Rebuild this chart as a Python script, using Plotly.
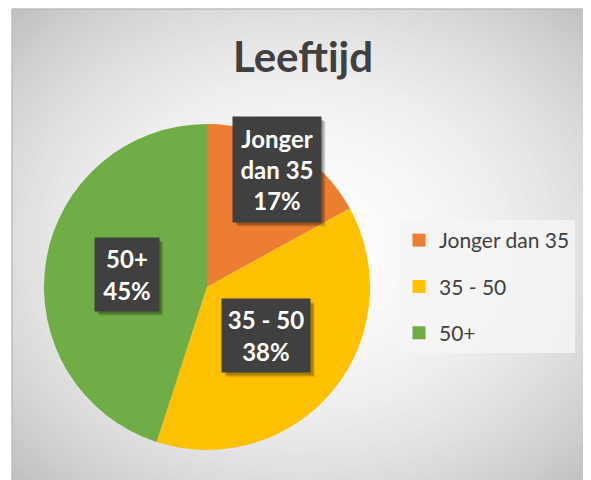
import math
import plotly.graph_objects as go

# ---- data ----
categories = ["Jonger dan 35", "35 - 50", "50+"]
values = [17, 38, 45]
colors = ["#ED7D31", "#FFC000", "#70AD47"]
title_text = "Leeftijd"

# ---- layout constants (screen pixels of the 591x480 window) ----
OFF = 8                               # default page margin of the html body
W, H = 591 - OFF, 480 - OFF           # figure size
PCX, PCY, PR = 207, 287, 163          # pie centre / radius
label_radius = [0.84, 0.47, 0.50]     # where each data-label box sits (fraction of radius)
label_box = [(88, 105), (88, 73), (64, 73)]
AREA_X0, AREA_Y0 = 12, 9              # chart-area top-left corner


def px(x):
    return (x - OFF) / W


def py(y):
    return 1 - (y - OFF) / H


fig = go.Figure()

fig.add_trace(go.Pie(
    labels=categories,
    values=values,
    marker=dict(colors=colors, line=dict(width=0)),
    sort=False,
    direction="clockwise",
    rotation=0,
    textinfo="none",
    hoverinfo="label+percent",
    showlegend=False,
    domain=dict(x=[px(PCX - PR), px(PCX + PR)], y=[py(PCY + PR), py(PCY - PR)]),
))

# legend entries
for i, (c, col) in enumerate(zip(categories, colors)):
    fig.add_trace(go.Scatter(
        x=[None], y=[None], mode="markers", name=c,
        marker=dict(symbol="square", size=13, color=col),
        legendgroup=f"g{i}", showlegend=True,
    ))

# ---- background radial gradient ----
shapes = []
N = 50
cx, cy = (AREA_X0 + 591) / 2, (AREA_Y0 + 480) / 2
hw, hh = (591 - AREA_X0) / 2 * 1.42, (480 - AREA_Y0) / 2 * 1.42
light, dark = 253, 192
for k in range(N):
    t = 1 - k / N
    g = int(round(light - (light - dark) * (t ** 2)))
    shapes.append(dict(
        type="circle", xref="paper", yref="paper", layer="below",
        x0=px(cx - hw * t), x1=px(cx + hw * t),
        y0=py(cy + hh * t), y1=py(cy - hh * t),
        fillcolor=f"rgb({g},{g},{g})", line=dict(width=0),
    ))
# white outside chart area
shapes.append(dict(type="rect", xref="paper", yref="paper", layer="below",
                   x0=-0.1, x1=px(AREA_X0), y0=-0.1, y1=1.1,
                   fillcolor="white", line=dict(width=0)))
shapes.append(dict(type="rect", xref="paper", yref="paper", layer="below",
                   x0=-0.1, x1=1.1, y0=py(AREA_Y0), y1=1.1,
                   fillcolor="white", line=dict(width=0)))
# border
shapes.append(dict(type="line", xref="paper", yref="paper", layer="below",
                   x0=px(AREA_X0), x1=px(AREA_X0), y0=0, y1=py(AREA_Y0),
                   line=dict(color="#BDBDBD", width=1.5)))
shapes.append(dict(type="line", xref="paper", yref="paper", layer="below",
                   x0=px(AREA_X0), x1=1, y0=py(AREA_Y0), y1=py(AREA_Y0),
                   line=dict(color="#BDBDBD", width=1.5)))

# ---- data labels ----
annotations = []
total = sum(values)
cum = 0
for i, (c, v) in enumerate(zip(categories, values)):
    mid = (cum + v / 2) / total * 2 * math.pi
    cum += v
    r = PR * label_radius[i]
    lx = PCX + r * math.sin(mid)
    ly = PCY - r * math.cos(mid)
    bw, bh = label_box[i]
    # soft drop shadow
    for s, a in [(5, 0.08), (4, 0.12), (3, 0.18)]:
        shapes.append(dict(
            type="rect", xref="paper", yref="paper", layer="above",
            x0=px(lx - bw / 2 + s), x1=px(lx + bw / 2 + s),
            y0=py(ly + bh / 2 + s), y1=py(ly - bh / 2 + s),
            fillcolor=f"rgba(0,0,0,{a})", line=dict(width=0),
        ))
    name = c.replace("Jonger dan 35", "Jonger<br>dan 35")
    txt = f"<b>{name}<br>{round(v / total * 100)}%</b>"
    annotations.append(dict(
        x=px(lx), y=py(ly), xref="paper", yref="paper", text=txt, showarrow=False,
        xanchor="center", yanchor="middle",
        font=dict(family="Lato", size=24, color="white"),
        bgcolor="#404040", borderpad=0, width=bw, height=bh,
        align="center", valign="middle",
    ))

fig.update_layout(
    width=W, height=H,
    margin=dict(l=0, r=0, t=0, b=0),
    paper_bgcolor="white",
    plot_bgcolor="rgba(0,0,0,0)",
    xaxis=dict(visible=False),
    yaxis=dict(visible=False),
    title=dict(text=f"<b>{title_text}</b>", x=px(303), xanchor="center",
               y=py(57), yanchor="middle", yref="paper",
               font=dict(family="Lato", size=42, color="#404040")),
    legend=dict(
        x=px(399), y=py(220), xanchor="left", yanchor="top",
        bgcolor="rgba(244,244,244,0.85)",
        font=dict(family="Lato", size=21, color="#404040"),
        tracegroupgap=16, itemsizing="trace",
        entrywidth=140,
    ),
    shapes=shapes,
    annotations=annotations,
)

fig.write_html("out.html")
